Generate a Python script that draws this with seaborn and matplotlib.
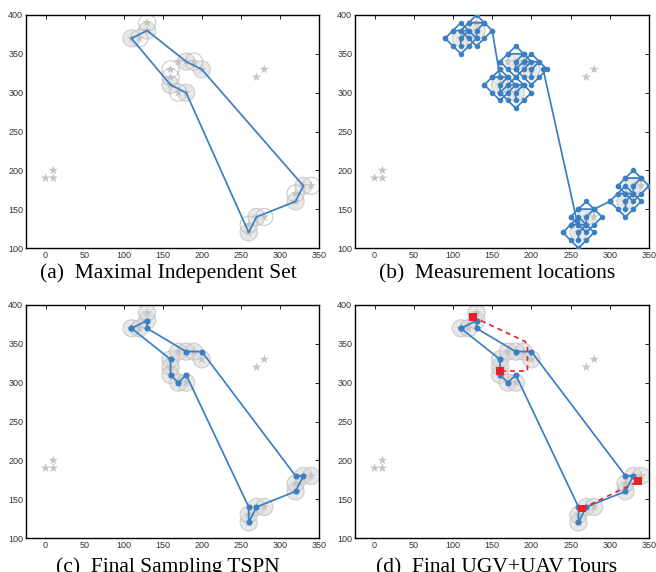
import numpy as np
import pandas as pd
import matplotlib
matplotlib.use("Agg")
import matplotlib.pyplot as plt
from matplotlib.patches import Circle
import seaborn as sns

# target locations (stars)
pt_x = [0, 10, 10, 270, 280, 110, 120, 130, 130, 160, 160, 160, 170, 180, 170, 180, 190, 200, 260, 260, 270, 280, 320, 320, 330, 340]
pt_y = [190, 190, 200, 320, 330, 370, 370, 380, 390, 330, 320, 310, 300, 300, 340, 340, 340, 330, 120, 130, 140, 140, 160, 170, 180, 180]

# maximal independent set (filled circles in a)
mis_x = [110, 130, 160, 180, 180, 200, 260, 270, 320, 330]
mis_y = [370, 380, 310, 300, 340, 330, 120, 140, 160, 180]
# other covered points (open circles in a)
open_x = [120, 130, 160, 160, 170, 190, 260, 280, 320, 340]
open_y = [370, 390, 330, 320, 300, 340, 130, 140, 170, 180]

# tour over the MIS
tour_a_x = [110, 160, 180, 260, 270, 320, 330, 200, 180, 130, 110]
tour_a_y = [370, 310, 300, 120, 140, 160, 180, 330, 340, 380, 370]

# measurement pattern around each MIS disc
diam_dx = [-20, -10, 0, 10, 20, 10, 0, -10, -20]
diam_dy = [0, 10, 20, 10, 0, -10, -20, -10, 0]
inner_dx = [-10, 10, 0, 0]
inner_dy = [10, 10, 0, -10]
links_b = [([150, 160], [380, 320]), ([215, 258], [330, 135]), ([280, 300], [150, 160])]

# final sampling tour
tour_c_x = [110, 130, 130, 180, 200, 320, 330, 320, 270, 260, 260, 180, 170, 160, 160, 110]
tour_c_y = [370, 380, 370, 340, 340, 180, 180, 160, 140, 120, 140, 310, 300, 310, 330, 370]

# UAV take-off/landing points and flights
uav_x = [125, 160, 265, 336]
uav_y = [385, 315, 138, 173]
flight1_x = [125, 192, 195, 195, 160]
flight1_y = [385, 353, 348, 315, 315]
flight2_x = [265, 336]
flight2_y = [138, 173]

captions = ["(a)  Maximal Independent Set", "(b)  Measurement locations",
            "(c)  Final Sampling TSPN", "(d)  Final UGV+UAV Tours"]

BLUE = "#3a7fc1"
RED = "#e8202a"
STAR = "#c4c4c4"
RAD = 11
LW = 1.25

sns.set_theme(style="white")
plt.rcParams['font.family'] = ['Liberation Sans', 'DejaVu Sans']

fig = plt.figure(figsize=(6.56, 5.72), dpi=100)
W, H = 656, 572
boxes = [(26, 15, 319, 248), (355, 15, 649, 248), (26, 305, 319, 538), (355, 305, 649, 538)]
axes = []
for (l, t, r, b) in boxes:
    ax = fig.add_axes([l / W, 1 - b / H, (r - l) / W, (b - t) / H])
    axes.append(ax)

stars = pd.DataFrame({"x": pt_x, "y": pt_y})


def base(ax):
    ax.set_xlim(-25, 350)
    ax.set_ylim(100, 400)
    ax.set_xticks(range(0, 351, 50))
    ax.set_yticks(range(100, 401, 50))
    ax.tick_params(direction="in", length=3, width=0.7, top=True, right=True,
                   labelsize=6.5, pad=2, colors="#222222")
    ax.tick_params(labelcolor="#333333")
    for s in ax.spines.values():
        s.set_color("black")
        s.set_linewidth(1.0)
    ax.set_xlabel("")
    ax.set_ylabel("")


def discs(ax, xs, ys, filled=True):
    for x, y in zip(xs, ys):
        if filled:
            c = Circle((x, y), RAD, facecolor=(0.84, 0.84, 0.84, 0.55),
                       edgecolor=(0.74, 0.74, 0.74, 0.7), lw=0.8, zorder=1)
        else:
            c = Circle((x, y), RAD, facecolor="none",
                       edgecolor=(0.74, 0.74, 0.74, 0.8), lw=0.8, zorder=1)
        ax.add_patch(c)


def draw_stars(ax):
    sns.scatterplot(data=stars, x="x", y="y", ax=ax, marker="*", s=50,
                    color=STAR, edgecolor="none", zorder=2, legend=False)


# (a)
ax = axes[0]
discs(ax, mis_x, mis_y, True)
discs(ax, open_x, open_y, False)
draw_stars(ax)
sns.lineplot(x=tour_a_x, y=tour_a_y, sort=False, estimator=None, ax=ax,
             color=BLUE, lw=LW, zorder=3)

# (b)
ax = axes[1]
discs(ax, mis_x, mis_y, True)
draw_stars(ax)
for cx, cy in zip(mis_x, mis_y):
    dx = [cx + d for d in diam_dx]
    dy = [cy + d for d in diam_dy]
    sns.lineplot(x=dx, y=dy, sort=False, estimator=None, ax=ax, color=BLUE,
                 lw=LW, marker="o", markersize=3.2, markeredgecolor=BLUE, zorder=3)
    ix = [cx + d for d in inner_dx]
    iy = [cy + d for d in inner_dy]
    sns.lineplot(x=ix, y=iy, sort=False, estimator=None, ax=ax, color=BLUE,
                 lw=LW, marker="o", markersize=3.2, markeredgecolor=BLUE, zorder=3)
for lx, ly in links_b:
    sns.lineplot(x=lx, y=ly, sort=False, estimator=None, ax=ax, color=BLUE,
                 lw=LW, marker="o", markersize=3.2, markeredgecolor=BLUE, zorder=3)

# (c) and (d)
covered_x = pt_x[5:]
covered_y = pt_y[5:]
for ax in axes[2:]:
    discs(ax, covered_x, covered_y, True)
    draw_stars(ax)
    sns.lineplot(x=tour_c_x, y=tour_c_y, sort=False, estimator=None, ax=ax,
                 color=BLUE, lw=LW, marker="o", markersize=3.6,
                 markeredgecolor=BLUE, zorder=3)

ax = axes[3]
for fx, fy in [(flight1_x, flight1_y), (flight2_x, flight2_y)]:
    sns.lineplot(x=fx, y=fy, sort=False, estimator=None, ax=ax, color=RED,
                 lw=1.2, linestyle=(0, (3, 2.5)), zorder=4)
sns.scatterplot(x=uav_x, y=uav_y, ax=ax, marker="s", s=32, color=RED,
                edgecolor="none", zorder=5, legend=False)

for ax in axes:
    base(ax)

cap_pos = [(168, 278), (497, 278), (168, 572), (497, 572)]
for (cx, cy), txt in zip(cap_pos, captions):
    fig.text(cx / W, 1 - cy / H, txt, ha="center", va="baseline",
             family=["Liberation Serif", "DejaVu Serif"], fontsize=15.5, color="black")

fig.savefig("out.png", dpi=100)
